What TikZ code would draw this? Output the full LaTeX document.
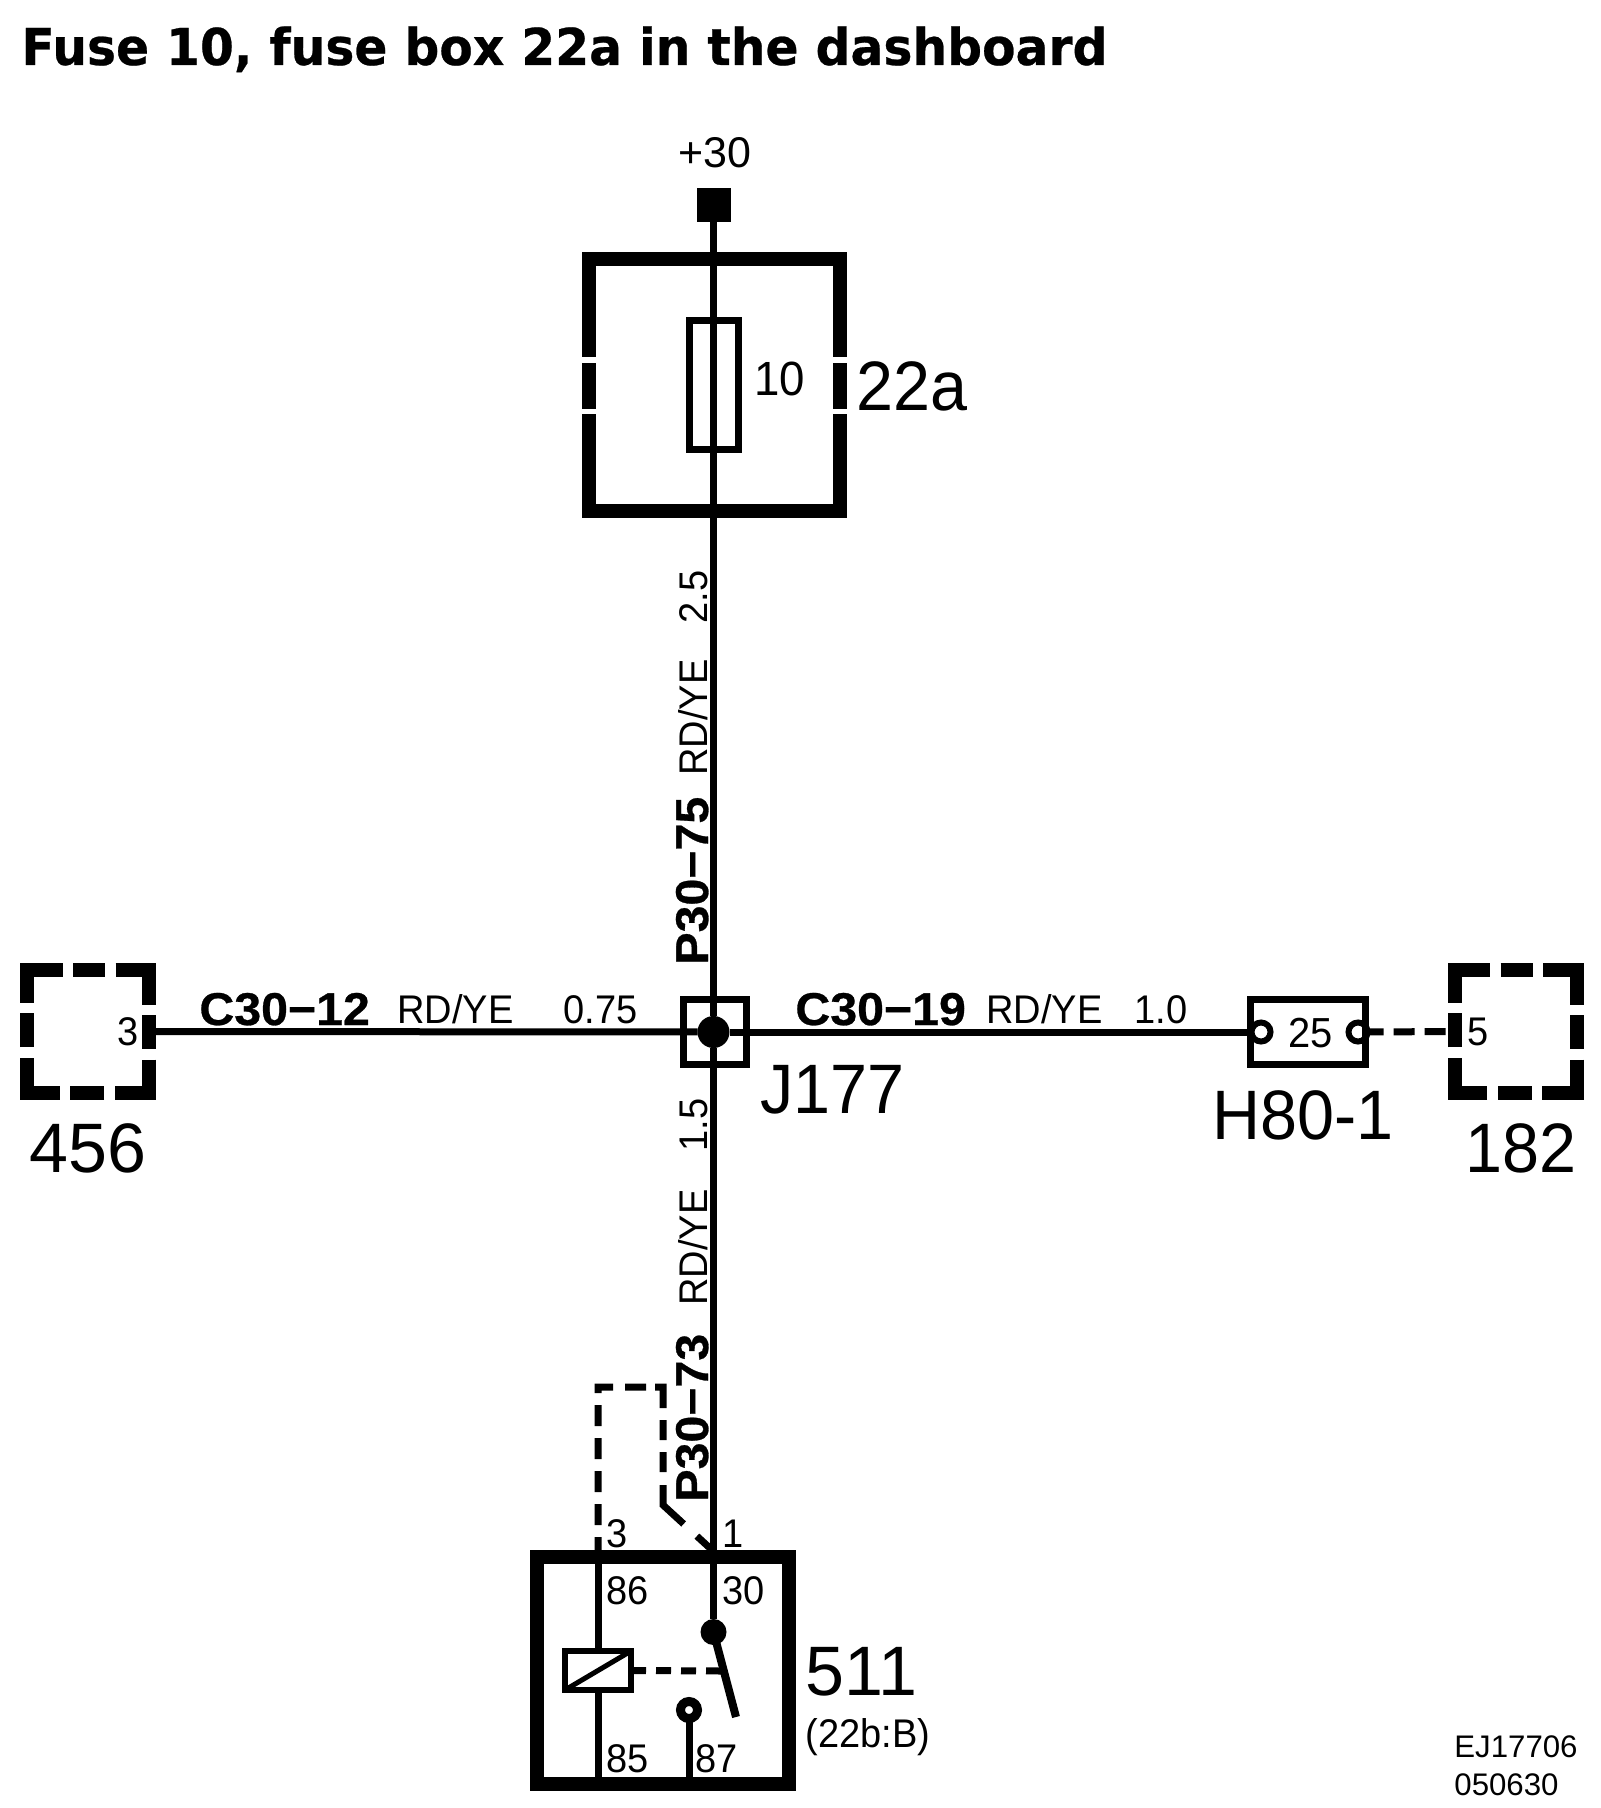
\documentclass[tikz,border=0pt]{standalone}
\usepackage{fontspec}
\setmainfont[FakeStretch=0.95]{Liberation Sans}
\newfontfamily\plainfont{Liberation Sans}
\newfontfamily\wirefont[FakeStretch=1.05,FakeBold=0.6]{Liberation Sans}
\newfontfamily\titlefont[FakeStretch=0.96,FakeBold=0.5]{DejaVu Sans}
\usepackage{tikz}

\tikzset{
    wire/.style={line width=3.5pt},
    heavy/.style={draw,line width=7pt,inner sep=0pt,outer sep=0pt},
    thinbox/.style={draw,line width=3.75pt,inner sep=0pt,outer sep=0pt},
    connbox/.style={minimum width=61pt,minimum height=61.5pt,inner sep=0pt,outer sep=0pt},
    connline/.style={line width=7pt,dash pattern=on 17pt off 5.25pt on 34pt off 5.25pt,dash phase=8.5pt},
    ctrl/.style={line width=3.5pt},
    lab/.style={anchor=base west,inner sep=0pt,font=\fontsize{20}{20}\selectfont},
    biglab/.style={anchor=base west,inner sep=0pt,font=\fontsize{35}{35}\selectfont},
    numlab/.style={anchor=base west,inner sep=0pt,font=\plainfont\fontsize{35}{35}\selectfont},
    wirelab/.style={anchor=base west,inner sep=0pt,font=\wirefont\bfseries\fontsize{23}{23}\selectfont},
    pin/.style={circle,draw,line width=3pt,minimum size=9.5pt,inner sep=0pt,outer sep=0pt},
    dot/.style={circle,fill,inner sep=0pt,outer sep=0pt}
}

\begin{document}
\begin{tikzpicture}[x=0.5pt,y=-0.5pt]
    \path[use as bounding box,fill=white] (0,0) rectangle (1600,1808);

    \node[anchor=base west,inner sep=0pt,font=\titlefont\bfseries\fontsize{25.4}{25.4}\selectfont] (title) at (21,65) {Fuse 10, fuse box 22a in the dashboard};

    % fuse box
    \node[fill,inner sep=0pt,outer sep=0pt,minimum width=17pt,minimum height=17pt] (bat) at (713.5,205) {};
    \node[lab,font=\plainfont\fontsize{21.5}{21.5}\selectfont] (batlab) at (678,168) {+30};
    \node[heavy,minimum width=125.5pt,minimum height=126pt] (fb22a) at (714.5,385) {};
    \foreach \gapy in {360,411.5} {
        \draw[white,line width=2.75pt] ([xshift=-5pt]fb22a.west |- 0,\gapy) -- ([xshift=5pt]fb22a.west |- 0,\gapy);
        \draw[white,line width=2.75pt] ([xshift=-5pt]fb22a.east |- 0,\gapy) -- ([xshift=5pt]fb22a.east |- 0,\gapy);
    }
    \node[thinbox,minimum width=24.5pt,minimum height=64.5pt] (f10) at (714,385) {};
    \node[lab,font=\fontsize{24}{24}\selectfont] (f10lab) at (754,395) {10};
    \node[biglab] (fb22alab) at (856,410) {22a};

    % junction
    \node[thinbox,minimum width=31.5pt,minimum height=32.5pt] (j177) at (715,1032) {};
    \node[dot,minimum size=16pt] (jdot) at (713.5,1032) {};
    \node[biglab] (j177lab) at (760,1113) {J177};

    % connectors left and right
    \foreach \boxname/\boxx in {c456/88,c182/1515.5} {
        \node[connbox] (\boxname) at (\boxx,1031.5) {};
        \draw[connline] (\boxname.north) -| (\boxname.east) |- (\boxname.south) -| (\boxname.west) |- (\boxname.north);
    }
    \node[lab] (c456pin) at (117,1045) {3};
    \node[lab] (c182pin) at (1467,1045) {5};
    \node[numlab] (c456lab) at (29,1172) {456};
    \node[biglab] (c182lab) at (1465,1172) {182};

    % inline connector
    \node[thinbox,minimum width=57.5pt,minimum height=32.5pt] (h80) at (1308,1032) {};
    \node[pin] (h80a) at (1261,1032) {};
    \node[pin] (h80b) at (1358,1032) {};
    \node[lab,font=\fontsize{21}{21}\selectfont] (h80pin) at (1288,1047) {25};
    \node[biglab] (h80lab) at (1212,1139) {H80-1};

    % relay
    \node[heavy,minimum width=126pt,minimum height=113.5pt] (r511) at (663,1670.5) {};
    \node[draw,line width=3pt,inner sep=0pt,outer sep=0pt,minimum width=33pt,minimum height=19.5pt] (coil) at (598,1670.5) {};
    \draw[line width=2.5pt] (coil.south west) -- (coil.north east);
    \node[dot,minimum size=13pt] (kdot) at (713.5,1632) {};
    \node[pin,line width=4.5pt,minimum size=8.5pt] (c87) at (689,1710) {};
    \coordinate (armend) at (736,1717);
    \coordinate (armmid) at (722,1671);
    \coordinate (p3) at (598,1550);
    \coordinate (p85) at (598,1784);
    \coordinate (p87) at (689,1784);
    \coordinate (d1) at (598,1387);
    \coordinate (d2) at (663,1387);
    \coordinate (d3) at (663,1505);
    \coordinate (d4) at (712,1550);

    \draw[wire] (bat) -- (jdot);
    \draw[wire] (jdot) -- (kdot);
    \draw[wire] (c456.east) -- (jdot);
    \draw[wire] (jdot) -- (h80.west);
    \draw[ctrl,dash pattern=on 10.5pt off 5pt,dash phase=1.5pt] (h80.east) -- (c182.west);
    \draw[wire] (p3) -- (coil.north);
    \draw[wire] (coil.south) -- (p85);
    \draw[wire] (c87) -- (p87);
    \draw[line width=4pt] (kdot.center) -- (armend);
    \draw[ctrl,dash pattern=on 7.5pt off 5pt] (coil.east) -- (armmid);
    \draw[ctrl,dash pattern=on 6.5pt off 6pt on 10.5pt off 6pt on 10.5pt off 6pt on 10.5pt off 6pt on 10.5pt off 6pt on 10.5pt off 6pt on 10.5pt off 4.5pt on 14.5pt off 6pt on 10pt off 6pt on 10pt off 6.5pt on 24pt off 9pt on 11pt off 10pt] (p3) -- (d1) -- (d2) -- (d3) -- (d4);

    \node[lab] (pin3) at (606,1547) {3};
    \node[lab] (pin1) at (722,1547) {1};
    \node[lab] (pin86) at (606,1604) {86};
    \node[lab] (pin30) at (722,1604) {30};
    \node[lab] (pin85) at (606,1772) {85};
    \node[lab] (pin87) at (695,1772) {87};
    \node[numlab] (r511lab) at (805,1695) {511};
    \node[lab] (r511pos) at (805,1747) {(22b:B)};

    % wire labels
    \node[wirelab] (c3012) at (199,1025) {C30−12};
    \node[lab] (c3012col) at (397,1023) {RD/YE};
    \node[lab] (c3012sz) at (563,1023) {0.75};
    \node[wirelab] (c3019) at (795,1025) {C30−19};
    \node[lab] (c3019col) at (986,1023) {RD/YE};
    \node[lab] (c3019sz) at (1134,1023) {1.0};
    \node[wirelab,rotate=90] (p3075) at (708,965) {P30−75};
    \node[lab,rotate=90] (p3075col) at (707,776) {RD/YE};
    \node[lab,rotate=90] (p3075sz) at (707,624) {2.5};
    \node[wirelab,rotate=90] (p3073) at (708,1502) {P30−73};
    \node[lab,rotate=90] (p3073col) at (707,1306) {RD/YE};
    \node[lab,rotate=90] (p3073sz) at (707,1152) {1.5};

    \node[lab,font=\plainfont\fontsize{15.6}{15.6}\selectfont] (docid) at (1454,1757) {EJ17706};
    \node[lab,font=\plainfont\fontsize{15.6}{15.6}\selectfont] (docdate) at (1454,1795) {050630};
\end{tikzpicture}
\end{document}
